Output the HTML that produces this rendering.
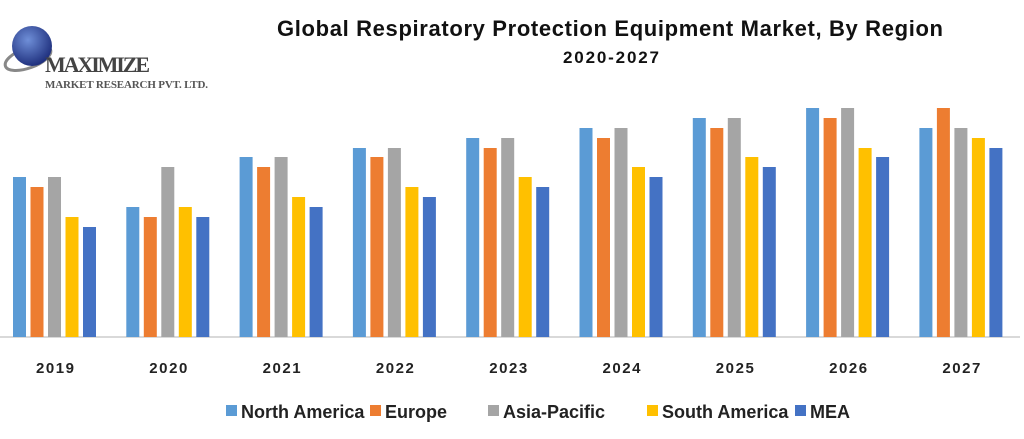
<!DOCTYPE html>
<html><head><meta charset="utf-8"><style>
body{margin:0;background:#fff;width:1024px;height:439px;overflow:hidden;font-family:"Liberation Sans",sans-serif}
svg{display:block}
</style></head><body>
<svg id="chart" width="1024" height="439">
 <g>
  <defs><radialGradient id="gl" cx="40%" cy="35%" r="70%"><stop offset="0" stop-color="#6f8fd8"/><stop offset="1" stop-color="#1a2a78"/></radialGradient></defs>
  <ellipse cx="28" cy="58" rx="24" ry="10" fill="none" stroke="#888" stroke-width="3" transform="rotate(-20 28 58)"/>
  <circle cx="32" cy="46" r="20" fill="url(#gl)"/>
  <text x="45" y="72" font-family="Liberation Serif,serif" font-size="22" font-weight="bold" fill="#444" textLength="105">MAXIMIZE</text>
  <text x="45" y="88" font-family="Liberation Serif,serif" font-size="11" font-weight="bold" fill="#555" textLength="163">MARKET RESEARCH PVT. LTD.</text>
 </g>
 <text x="610" y="36" text-anchor="middle" font-size="22" font-weight="bold" fill="#111" textLength="666">Global Respiratory Protection Equipment Market, By Region</text>
 <text x="611" y="63" text-anchor="middle" font-size="17" font-weight="bold" fill="#111" textLength="96">2020-2027</text>
 <line x1="0" y1="337" x2="1020" y2="337" stroke="#d9d9d9" stroke-width="2"/>
 <g id="bars"></g><g id="xlabels"></g><g id="legend"></g>
</svg>
<script>
const categories=["2019","2020","2021","2022","2023","2024","2025","2026","2027"];
const seriesNames=["North America","Europe","Asia-Pacific","South America","MEA"];
const northAmerica=[160,130,180,189,199,209,219,229,209];
const europe=[150,120,170,180,189,199,209,219,229];
const asiaPacific=[160,170,180,189,199,209,219,229,209];
const southAmerica=[120,130,140,150,160,170,180,189,199];
const mea=[110,120,130,140,150,160,170,180,189];
const seriesValues=[northAmerica,europe,asiaPacific,southAmerica,mea];
const colors=["#5b9bd5","#ed7d31","#a5a5a5","#ffc000","#4472c4"];
const NS="http://www.w3.org/2000/svg";
const base=337,groupStart=13,groupStep=113.3,barStep=17.5,barW=13;
const y=v=>base-v;
const xg=i=>groupStart+i*groupStep;
const bars=document.getElementById('bars');
seriesValues.forEach((vals,s)=>{vals.forEach((v,i)=>{
 const r=document.createElementNS(NS,'rect');
 r.setAttribute('x',xg(i)+s*barStep);r.setAttribute('y',y(v));
 r.setAttribute('width',barW);r.setAttribute('height',base-y(v));
 r.setAttribute('fill',colors[s]);
 
 
 bars.appendChild(r);});});
const xl=document.getElementById('xlabels');
categories.forEach((c,i)=>{const t=document.createElementNS(NS,'text');
 t.setAttribute('x',xg(i)+42);t.setAttribute('y',373);t.setAttribute('text-anchor','middle');
 t.setAttribute('font-size','15');t.setAttribute('font-weight','bold');t.setAttribute('fill','#222');
 t.setAttribute('textLength','38');
 t.textContent=c;
 
 
 xl.appendChild(t);});
const lx=[226,370,488,647,795];
const lw=[127,91,121,147,69];
const lg=document.getElementById('legend');
seriesNames.forEach((n,s)=>{const g=document.createElementNS(NS,'g');
 
 
 const r=document.createElementNS(NS,'rect');r.setAttribute('x',lx[s]);r.setAttribute('y',405);r.setAttribute('width',11);r.setAttribute('height',11);r.setAttribute('fill',colors[s]);
 const t=document.createElementNS(NS,'text');t.setAttribute('x',lx[s]+15);t.setAttribute('y',418);t.setAttribute('font-size','18');t.setAttribute('font-weight','bold');t.setAttribute('fill','#222');t.textContent=n;
 g.appendChild(r);g.appendChild(t);lg.appendChild(g);});
</script>
</body></html>
